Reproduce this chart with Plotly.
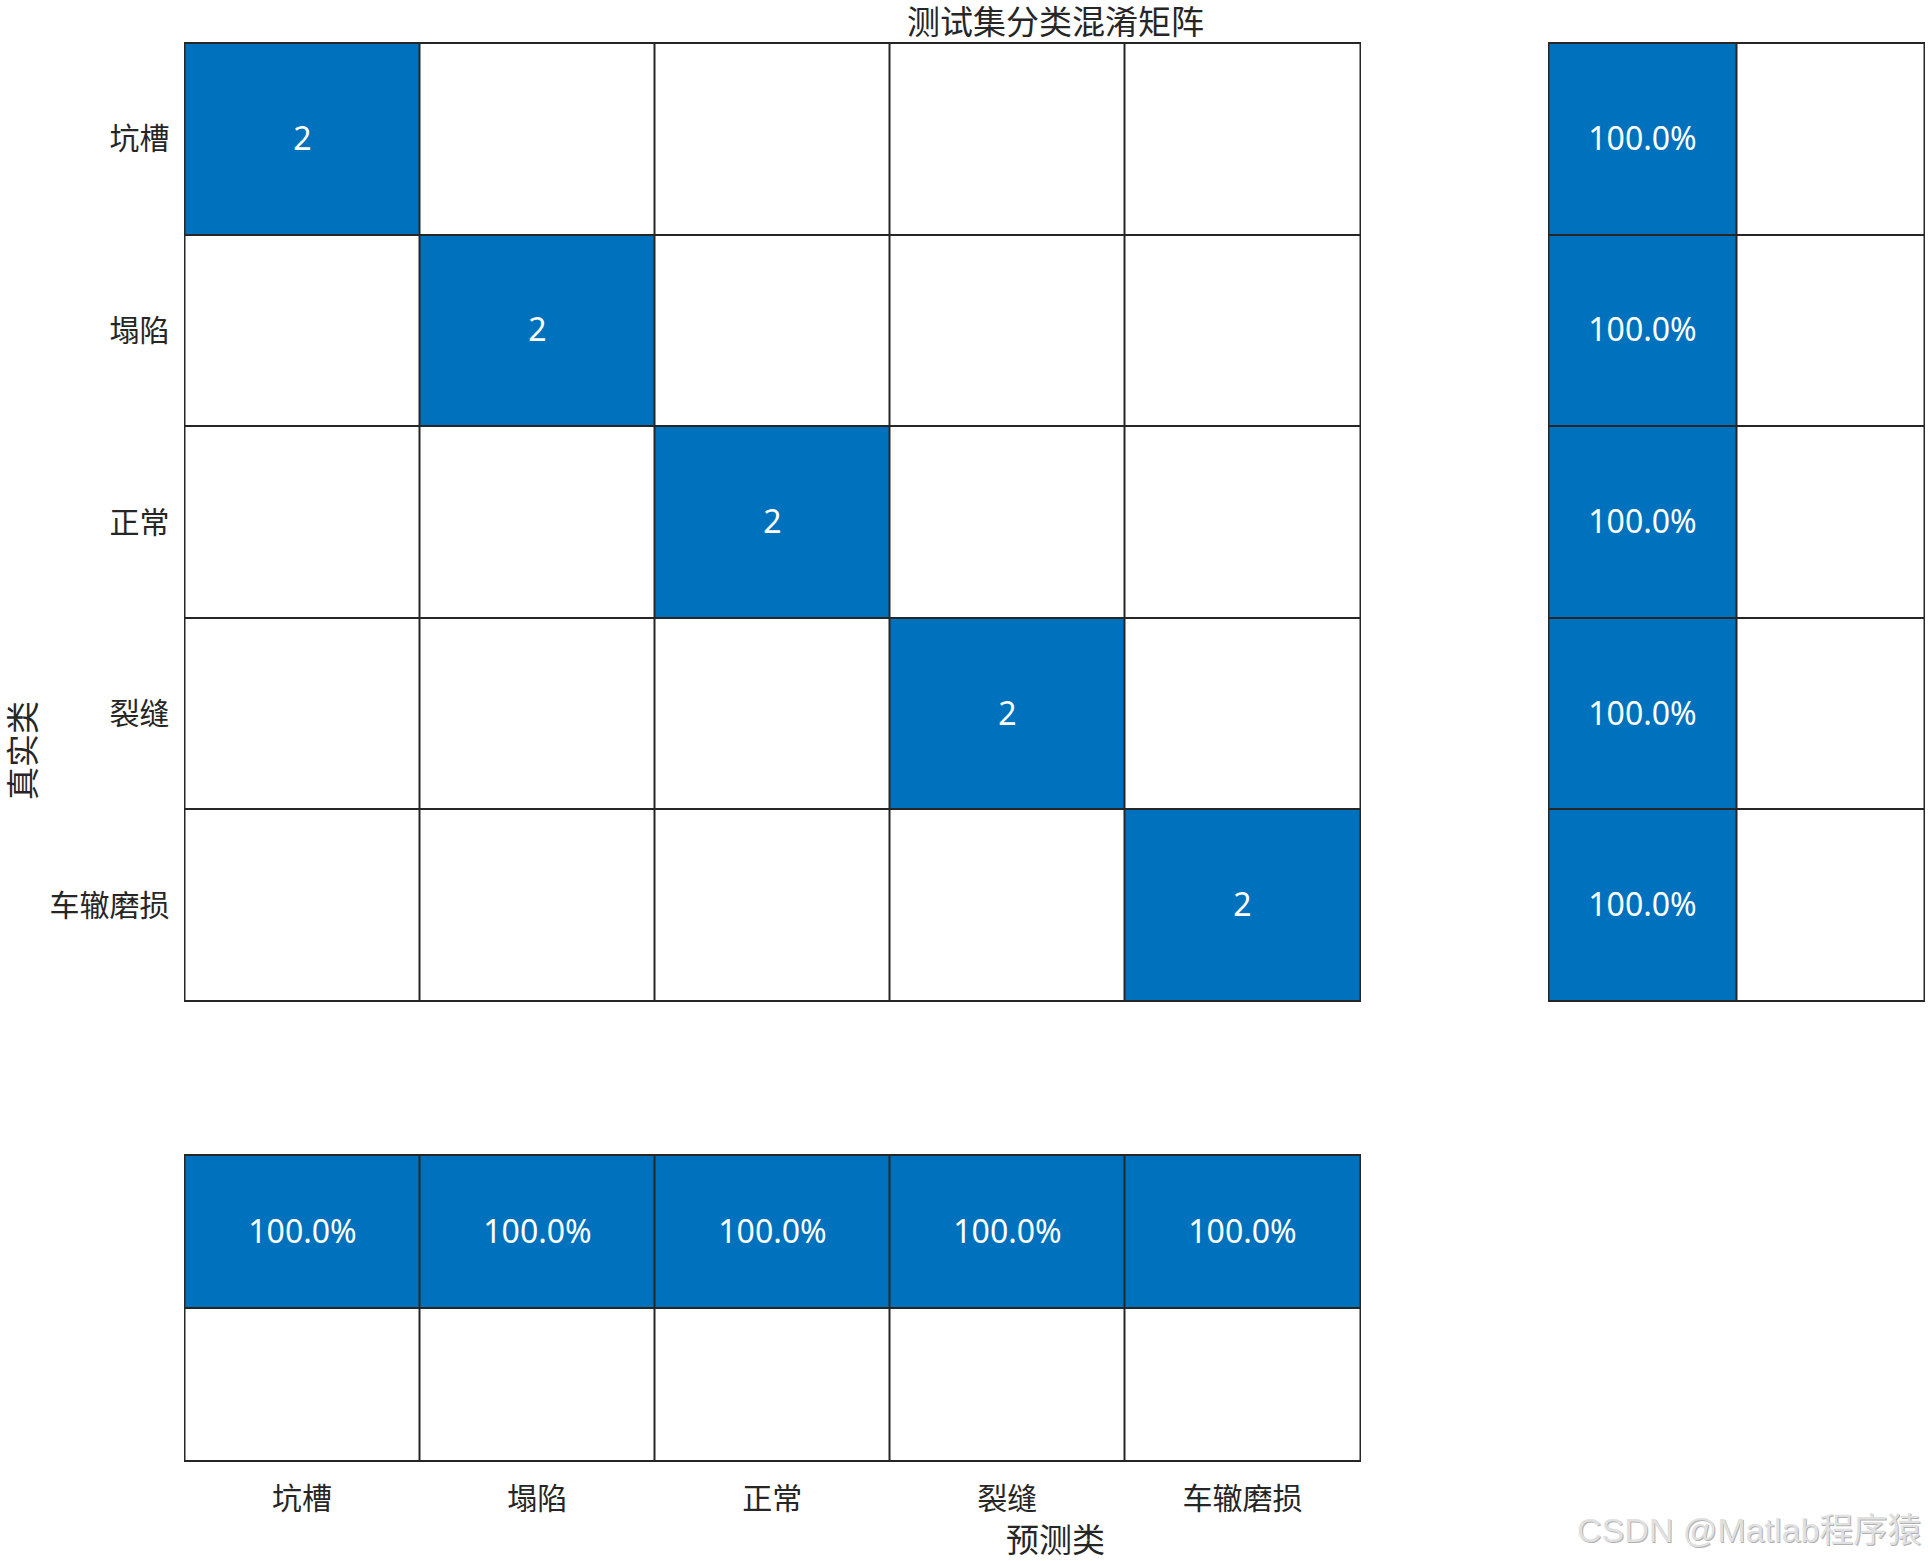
import plotly.graph_objects as go

# class names (true rows top->bottom, predicted cols left->right)
classes = ["坑槽", "塌陷", "正常", "裂缝", "车辙磨损"]

# confusion matrix counts
counts = [
    [2, 0, 0, 0, 0],
    [0, 2, 0, 0, 0],
    [0, 0, 2, 0, 0],
    [0, 0, 0, 2, 0],
    [0, 0, 0, 0, 2],
]

# row summary (per true class): correct % / wrong %
row_correct_pct = [100.0, 100.0, 100.0, 100.0, 100.0]
row_wrong_pct = [0.0, 0.0, 0.0, 0.0, 0.0]

# column summary (per predicted class): correct % / wrong %
col_correct_pct = [100.0, 100.0, 100.0, 100.0, 100.0]
col_wrong_pct = [0.0, 0.0, 0.0, 0.0, 0.0]

title_text = "测试集分类混淆矩阵"
x_title = "预测类"
y_title = "真实类"
watermark = "CSDN @Matlab程序猿"

W, H = 1928, 1561
BLUE = "#0072BD"
LINE = "#262626"
FONT = "Noto Sans, Noto Sans CJK SC"
scale = [[0, "white"], [1, BLUE]]


def cell_text(v, fmt):
    return fmt.format(v) if v else ""


def px_x(p):
    return p / W


def px_y(p):
    return 1 - p / H


fig = go.Figure()

# main matrix
fig.add_trace(go.Heatmap(
    z=counts,
    x=classes,
    y=classes,
    text=[[cell_text(v, "{}") for v in row] for row in counts],
    texttemplate="%{text}",
    textfont=dict(color="white", size=32, family=FONT),
    colorscale=scale, zmin=0, zmax=max(max(r) for r in counts),
    showscale=False, xgap=2, ygap=2, hoverinfo="skip",
    xaxis="x", yaxis="y",
))

# row summary on the right
row_z = [[c, w] for c, w in zip(row_correct_pct, row_wrong_pct)]
fig.add_trace(go.Heatmap(
    z=row_z,
    x=["正确", "错误"],
    y=classes,
    text=[[cell_text(v, "{:.1f}%") for v in row] for row in row_z],
    texttemplate="%{text}",
    textfont=dict(color="white", size=32, family=FONT),
    colorscale=scale, zmin=0, zmax=100,
    showscale=False, xgap=2, ygap=2, hoverinfo="skip",
    xaxis="x2", yaxis="y2",
))

# column summary at the bottom
col_z = [col_correct_pct, col_wrong_pct]
fig.add_trace(go.Heatmap(
    z=col_z,
    x=classes,
    y=["正确", "错误"],
    text=[[cell_text(v, "{:.1f}%") for v in row] for row in col_z],
    texttemplate="%{text}",
    textfont=dict(color="white", size=32, family=FONT),
    colorscale=scale, zmin=0, zmax=100,
    showscale=False, xgap=2, ygap=2, hoverinfo="skip",
    xaxis="x3", yaxis="y3",
))

axis_common = dict(
    showline=True, mirror=True, linecolor=LINE, linewidth=1,
    showgrid=False, zeroline=False, ticks="", fixedrange=True,
    tickfont=dict(size=30, color=LINE, family=FONT),
)

main_x = [px_x(184.5), px_x(1360)]
right_x = [px_x(1548.5), px_x(1924)]
main_y = [px_y(1001), px_y(43)]
bottom_y = [px_y(1461), px_y(1155)]

fig.update_layout(
    width=W, height=H,
    margin=dict(l=0, r=0, t=0, b=0),
    paper_bgcolor="white", plot_bgcolor=LINE,
    font=dict(family=FONT, color=LINE),
    xaxis=dict(domain=main_x, anchor="y", showticklabels=False, **axis_common),
    yaxis=dict(domain=main_y, anchor="x", autorange="reversed",
               ticklabelstandoff=8, **axis_common),
    xaxis2=dict(domain=right_x, anchor="y2", showticklabels=False, **axis_common),
    yaxis2=dict(domain=main_y, anchor="x2", autorange="reversed",
                showticklabels=False, **axis_common),
    xaxis3=dict(domain=main_x, anchor="y3", ticklabelstandoff=11, **axis_common),
    yaxis3=dict(domain=bottom_y, anchor="x3", autorange="reversed",
                showticklabels=False, **axis_common),
    annotations=[
        dict(text=title_text, x=px_x(1055), y=px_y(22), xref="paper", yref="paper",
             showarrow=False, xanchor="center", yanchor="middle",
             font=dict(size=33, color=LINE, family=FONT)),
        dict(text=x_title, x=px_x(1055), y=px_y(1539), xref="paper", yref="paper",
             showarrow=False, xanchor="center", yanchor="middle",
             font=dict(size=33, color=LINE, family=FONT)),
        dict(text=y_title, x=px_x(22), y=px_y(751), xref="paper", yref="paper",
             showarrow=False, xanchor="center", yanchor="middle", textangle=-90,
             font=dict(size=33, color=LINE, family=FONT)),
        dict(text=watermark, x=px_x(1923), y=px_y(1530), xref="paper", yref="paper",
             showarrow=False, xanchor="right", yanchor="middle",
             font=dict(size=34, color="#e0e0e0", family="Liberation Sans, Noto Sans CJK SC",
                       shadow="1px 1px 0px #b0b0b0")),
    ],
)

# drop the browser's default page margin so the figure sits at the window origin
fig.write_html(
    "out.html",
    config={"displayModeBar": False},
    post_script="document.body.style.margin='0';",
)
